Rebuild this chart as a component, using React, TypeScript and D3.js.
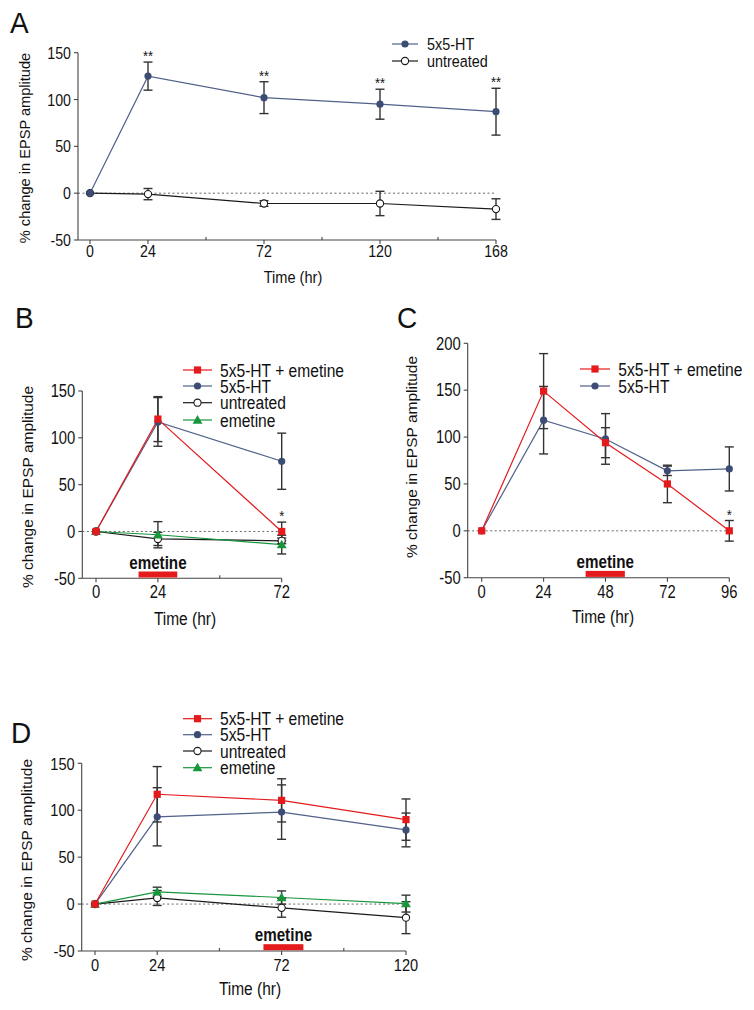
import React from "react";
import * as d3 from "d3";

// ---------- DATA ----------
// Panel A
const hoursA = [0, 24, 72, 120, 168];
const htA = [0, 125, 102, 95, 87];
const htErrA = [0, 15, 17, 16, 25];
const untA = [0, -1, -11, -11, -17];
const untErrA = [0, 6, 3, 13, 11];
const starsA = ["", "**", "**", "**", "**"];

// Panel B
const hoursB = [0, 24, 72];
const redB = [0, 120, 0];
const redErrB = [0, 24, 10];
const blueB = [0, 117, 75];
const blueErrB = [0, 26, 30];
const untB = [0, -8, -10];
const untErrB = [0, 7, 3];
const greenB = [0, -3.5, -14];
const greenErrB = [0, 14, 10];
const starsB = ["", "", "*"];

// Panel C
const hoursC = [0, 24, 48, 72, 96];
const redC = [0, 149, 94, 50, 0];
const redErrC = [0, 40, 16, 20, 11];
const blueC = [0, 118, 98, 64, 66];
const blueErrC = [0, 36, 27, 5, 23.5];
const starsC = ["", "", "", "", "*"];

// Panel D
const hoursD = [0, 24, 72, 120];
const redD = [0, 117, 110.5, 90];
const redErrD = [0, 29.5, 23, 22];
const blueD = [0, 93, 98, 79];
const blueErrD = [0, 31, 29, 18];
const untD = [0, 6.5, -4, -14.5];
const untErrD = [0, 8, 10, 17];
const greenD = [0, 13, 7, 0.5];
const greenErrD = [0, 5, 7, 9];

// axes
const yTicksABD = [-50, 0, 50, 100, 150];
const yTicksC = [-50, 0, 50, 100, 150, 200];
const xTicksA = [0, 24, 48, 72, 96, 120, 144, 168];
const xLabelsA = [0, 24, 72, 120, 168];
const xTicksB = [0, 24, 48, 72];
const xLabelsB = [0, 24, 72];
const xTicksC = [0, 24, 48, 72, 96];
const xLabelsC = [0, 24, 48, 72, 96];
const xTicksD = [0, 24, 48, 72, 96, 120];
const xLabelsD = [0, 24, 72, 120];

// emetine application windows (hr)
const emetineB = [16.5, 31.5];
const emetineC = [40.3, 55.5];
const emetineD = [65, 80.4];

// ---------- STYLE ----------
const FONT = "'Liberation Sans', Arial, Helvetica, sans-serif";
const RED = "#e41a1c";
const BLUE_FILL = "#3c4c74";
const BLUE_LINE = "#50608a";
const GREEN = "#17963c";
const BLACK = "#1a1a1a";
const ERR = "#333";
const SY = 1.18;

type Marker = "square" | "circle" | "open" | "triangle";

const T = ({ x, y, size, anchor = "start", weight = "normal", children, sy = SY }: any) => (
  <g transform={`translate(${x},${y}) scale(1,${sy})`}>
    <text fontSize={size} textAnchor={anchor} fontWeight={weight} fontFamily={FONT} fill="#111">
      {children}
    </text>
  </g>
);

const MarkerShape = ({ type, x, y }: { type: Marker; x: number; y: number }) => {
  if (type === "square") return <rect x={x - 3.6} y={y - 3.6} width={7.2} height={7.2} fill={RED} />;
  if (type === "circle") return <circle cx={x} cy={y} r={3.6} fill={BLUE_FILL} />;
  if (type === "open")
    return <circle cx={x} cy={y} r={3.6} fill="#fff" stroke={BLACK} strokeWidth={1.1} />;
  const p = d3.symbol(d3.symbolTriangle, 42)();
  return <path d={p as string} transform={`translate(${x},${y + 0.8})`} fill={GREEN} />;
};

interface Series {
  name: string;
  hours: number[];
  vals: number[];
  errs: number[];
  marker: Marker;
  color: string;
  stars?: string[];
}

interface PanelProps {
  letter: string;
  letterX: number;
  letterY: number;
  axisLeft: number;
  x0: number;
  x1: number;
  xMax: number;
  yTop: number;
  yBottom: number;
  yMax: number;
  yTicks: number[];
  xTicks: number[];
  xLabels: number[];
  series: Series[];
  ylabelCenter: number;
  ylabelX: number;
  tickSize: number;
  labelSize: number;
  tickOffset: number;
  timeX: number;
  timeY: number;
  legend: { x0: number; x1: number; tx: number; ys: number[]; size: number; names: string[]; markers: Marker[]; colors: string[] };
  emetine?: number[];
  emetineTextDy?: number;
}

const Panel = (p: PanelProps) => {
  const x = d3.scaleLinear().domain([0, p.xMax]).range([p.x0, p.x1]);
  const y = d3.scaleLinear().domain([-50, p.yMax]).range([p.yBottom, p.yTop]);
  const line = d3
    .line<[number, number]>()
    .x((d) => x(d[0]))
    .y((d) => y(d[1]));
  const cap = 4.5;
  return (
    <g>
      <T x={p.letterX} y={p.letterY} size={28} sy={1.05}>
        {p.letter}
      </T>
      {/* zero line */}
      <line x1={p.axisLeft} x2={x(p.xMax)} y1={y(0)} y2={y(0)} stroke="#666" strokeWidth={1} strokeDasharray="2,2.5" />
      {/* axes */}
      <line x1={p.axisLeft} x2={p.axisLeft} y1={y(-50)} y2={y(p.yMax)} stroke="#444" strokeWidth={1.1} />
      <line x1={p.axisLeft} x2={x(p.xMax)} y1={y(-50)} y2={y(-50)} stroke="#444" strokeWidth={1.1} />
      {p.yTicks.map((t) => (
        <g key={"yt" + t}>
          <line x1={p.axisLeft - 4} x2={p.axisLeft} y1={y(t)} y2={y(t)} stroke="#444" strokeWidth={1.1} />
          <T x={p.axisLeft - 7} y={y(t) + 0.36 * p.tickSize * SY} size={p.tickSize} anchor="end">
            {t}
          </T>
        </g>
      ))}
      {p.xTicks.map((t) => {
        const major = p.xLabels.includes(t);
        return (
          <line
            key={"xt" + t}
            x1={x(t)}
            x2={x(t)}
            y1={y(-50)}
            y2={major ? y(-50) + 4 : y(-50) - 3}
            stroke="#444"
            strokeWidth={1.1}
          />
        );
      })}
      {p.xLabels.map((t) => (
        <T key={"xl" + t} x={x(t)} y={y(-50) + p.tickOffset} size={p.tickSize} anchor="middle">
          {t}
        </T>
      ))}
      <T x={p.timeX} y={p.timeY} size={p.labelSize} anchor="middle">
        Time (hr)
      </T>
      <text
        transform={`translate(${p.ylabelX},${p.ylabelCenter}) rotate(-90)`}
        fontSize={p.labelSize}
        fontFamily={FONT}
        textAnchor="middle"
        fill="#111"
      >
        % change in EPSP amplitude
      </text>
      {/* emetine bar */}
      {p.emetine && (
        <g>
          <rect
            x={x(p.emetine[0])}
            y={y(-50) - 6.8}
            width={x(p.emetine[1]) - x(p.emetine[0])}
            height={6}
            fill={RED}
          />
          <T
            x={(x(p.emetine[0]) + x(p.emetine[1])) / 2}
            y={y(-50) - (p.emetineTextDy ?? 9)}
            size={15.2}
            anchor="middle"
            weight="bold"
          >
            emetine
          </T>
        </g>
      )}
      {/* lines */}
      {p.series.map((s) => (
        <path
          key={"l" + s.name}
          d={line(s.hours.map((h, i) => [h, s.vals[i]] as [number, number])) as string}
          fill="none"
          stroke={s.color}
          strokeWidth={1.2}
        />
      ))}
      {/* error bars */}
      {p.series.map((s) =>
        s.hours.map((h, i) =>
          s.errs[i] > 0 ? (
            <g key={"e" + s.name + i} stroke={ERR} strokeWidth={1.4}>
              <line x1={x(h)} x2={x(h)} y1={y(s.vals[i] - s.errs[i])} y2={y(s.vals[i] + s.errs[i])} />
              <line x1={x(h) - cap} x2={x(h) + cap} y1={y(s.vals[i] + s.errs[i])} y2={y(s.vals[i] + s.errs[i])} />
              <line x1={x(h) - cap} x2={x(h) + cap} y1={y(s.vals[i] - s.errs[i])} y2={y(s.vals[i] - s.errs[i])} />
            </g>
          ) : null
        )
      )}
      {/* markers */}
      {p.series.map((s) =>
        s.hours.map((h, i) => <MarkerShape key={"m" + s.name + i} type={s.marker} x={x(h)} y={y(s.vals[i])} />)
      )}
      {/* stars */}
      {p.series.map((s) =>
        (s.stars || []).map((st, i) =>
          st ? (
            <T key={"s" + s.name + i} x={x(s.hours[i])} y={y(s.vals[i] + s.errs[i]) - 1} size={13} anchor="middle">
              {st}
            </T>
          ) : null
        )
      )}
      {/* legend */}
      {p.legend.names.map((n, i) => (
        <g key={"lg" + n}>
          <line x1={p.legend.x0} x2={p.legend.x1} y1={p.legend.ys[i]} y2={p.legend.ys[i]} stroke={p.legend.colors[i]} strokeWidth={1.2} />
          <MarkerShape type={p.legend.markers[i]} x={(p.legend.x0 + p.legend.x1) / 2} y={p.legend.ys[i]} />
          <T x={p.legend.tx} y={p.legend.ys[i] + 0.36 * p.legend.size * SY} size={p.legend.size}>
            {n}
          </T>
        </g>
      ))}
    </g>
  );
};

export default function App() {
  const seriesA: Series[] = [
    { name: "untreated", hours: hoursA, vals: untA, errs: untErrA, marker: "open", color: BLACK },
    { name: "5x5-HT", hours: hoursA, vals: htA, errs: htErrA, marker: "circle", color: BLUE_LINE, stars: starsA },
  ];
  const seriesB: Series[] = [
    { name: "untreated", hours: hoursB, vals: untB, errs: untErrB, marker: "open", color: BLACK },
    { name: "emetine", hours: hoursB, vals: greenB, errs: greenErrB, marker: "triangle", color: GREEN },
    { name: "5x5-HT", hours: hoursB, vals: blueB, errs: blueErrB, marker: "circle", color: BLUE_LINE },
    { name: "5x5-HT + emetine", hours: hoursB, vals: redB, errs: redErrB, marker: "square", color: RED, stars: starsB },
  ];
  const seriesC: Series[] = [
    { name: "5x5-HT", hours: hoursC, vals: blueC, errs: blueErrC, marker: "circle", color: BLUE_LINE },
    { name: "5x5-HT + emetine", hours: hoursC, vals: redC, errs: redErrC, marker: "square", color: RED, stars: starsC },
  ];
  const seriesD: Series[] = [
    { name: "untreated", hours: hoursD, vals: untD, errs: untErrD, marker: "open", color: BLACK },
    { name: "emetine", hours: hoursD, vals: greenD, errs: greenErrD, marker: "triangle", color: GREEN },
    { name: "5x5-HT", hours: hoursD, vals: blueD, errs: blueErrD, marker: "circle", color: BLUE_LINE },
    { name: "5x5-HT + emetine", hours: hoursD, vals: redD, errs: redErrD, marker: "square", color: RED },
  ];
  const legend4Names = ["5x5-HT + emetine", "5x5-HT", "untreated", "emetine"];
  const legend4Markers: Marker[] = ["square", "circle", "open", "triangle"];
  const legend4Colors = [RED, BLUE_LINE, BLACK, GREEN];

  return (
    <svg
      width={754}
      height={1010}
      style={{ position: "absolute", left: 0, top: 0, background: "#fff" }}
      fontFamily={FONT}
    >
      <rect width={754} height={1010} fill="#fff" />
      <Panel
        letter="A"
        letterX={10}
        letterY={33}
        axisLeft={78}
        x0={90}
        x1={496}
        xMax={168}
        yTop={52.7}
        yBottom={240}
        yMax={150}
        yTicks={yTicksABD}
        xTicks={xTicksA}
        xLabels={xLabelsA}
        series={seriesA}
        ylabelCenter={148}
        ylabelX={30}
        tickSize={14.2}
        labelSize={14.6}
        tickOffset={17}
        timeX={293}
        timeY={283}
        legend={{
          x0: 392,
          x1: 418,
          tx: 427,
          ys: [44, 61],
          size: 14.4,
          names: ["5x5-HT", "untreated"],
          markers: ["circle", "open"],
          colors: [BLUE_LINE, BLACK],
        }}
      />
      <Panel
        letter="B"
        letterX={15}
        letterY={328}
        axisLeft={82.3}
        x0={96}
        x1={281.7}
        xMax={72}
        yTop={391}
        yBottom={578.3}
        yMax={150}
        yTicks={yTicksABD}
        xTicks={xTicksB}
        xLabels={xLabelsB}
        series={seriesB}
        ylabelCenter={487}
        ylabelX={33}
        tickSize={14.8}
        labelSize={15.5}
        tickOffset={20}
        timeX={185}
        timeY={625}
        emetine={emetineB}
        emetineTextDy={9}
        legend={{
          x0: 183,
          x1: 212,
          tx: 220,
          ys: [370, 386, 402.7, 420],
          size: 15.6,
          names: ["5x5-HT + emetine", "5x5-HT", "untreated", " emetine"],
          markers: legend4Markers,
          colors: legend4Colors,
        }}
      />
      <Panel
        letter="C"
        letterX={397}
        letterY={328}
        axisLeft={467.7}
        x0={481.7}
        x1={729.3}
        xMax={96}
        yTop={343.3}
        yBottom={577.7}
        yMax={200}
        yTicks={yTicksC}
        xTicks={xTicksC}
        xLabels={xLabelsC}
        series={seriesC}
        ylabelCenter={457}
        ylabelX={417}
        tickSize={14.8}
        labelSize={15.5}
        tickOffset={20}
        timeX={603}
        timeY={623}
        emetine={emetineC}
        emetineTextDy={9.5}
        legend={{
          x0: 580,
          x1: 610,
          tx: 618.3,
          ys: [369, 386],
          size: 15.6,
          names: ["5x5-HT + emetine", "5x5-HT"],
          markers: ["square", "circle"],
          colors: [RED, BLUE_LINE],
        }}
      />
      <Panel
        letter="D"
        letterX={11}
        letterY={743}
        axisLeft={81.7}
        x0={95}
        x1={406}
        xMax={120}
        yTop={763.3}
        yBottom={951}
        yMax={150}
        yTicks={yTicksABD}
        xTicks={xTicksD}
        xLabels={xLabelsD}
        series={seriesD}
        ylabelCenter={860}
        ylabelX={32}
        tickSize={14.6}
        labelSize={15.5}
        tickOffset={20}
        timeX={250}
        timeY={995}
        emetine={emetineD}
        emetineTextDy={10.3}
        legend={{
          x0: 183,
          x1: 212,
          tx: 220,
          ys: [718.7, 734.7, 751, 767.7],
          size: 15.6,
          names: legend4Names,
          markers: legend4Markers,
          colors: legend4Colors,
        }}
      />
    </svg>
  );
}
